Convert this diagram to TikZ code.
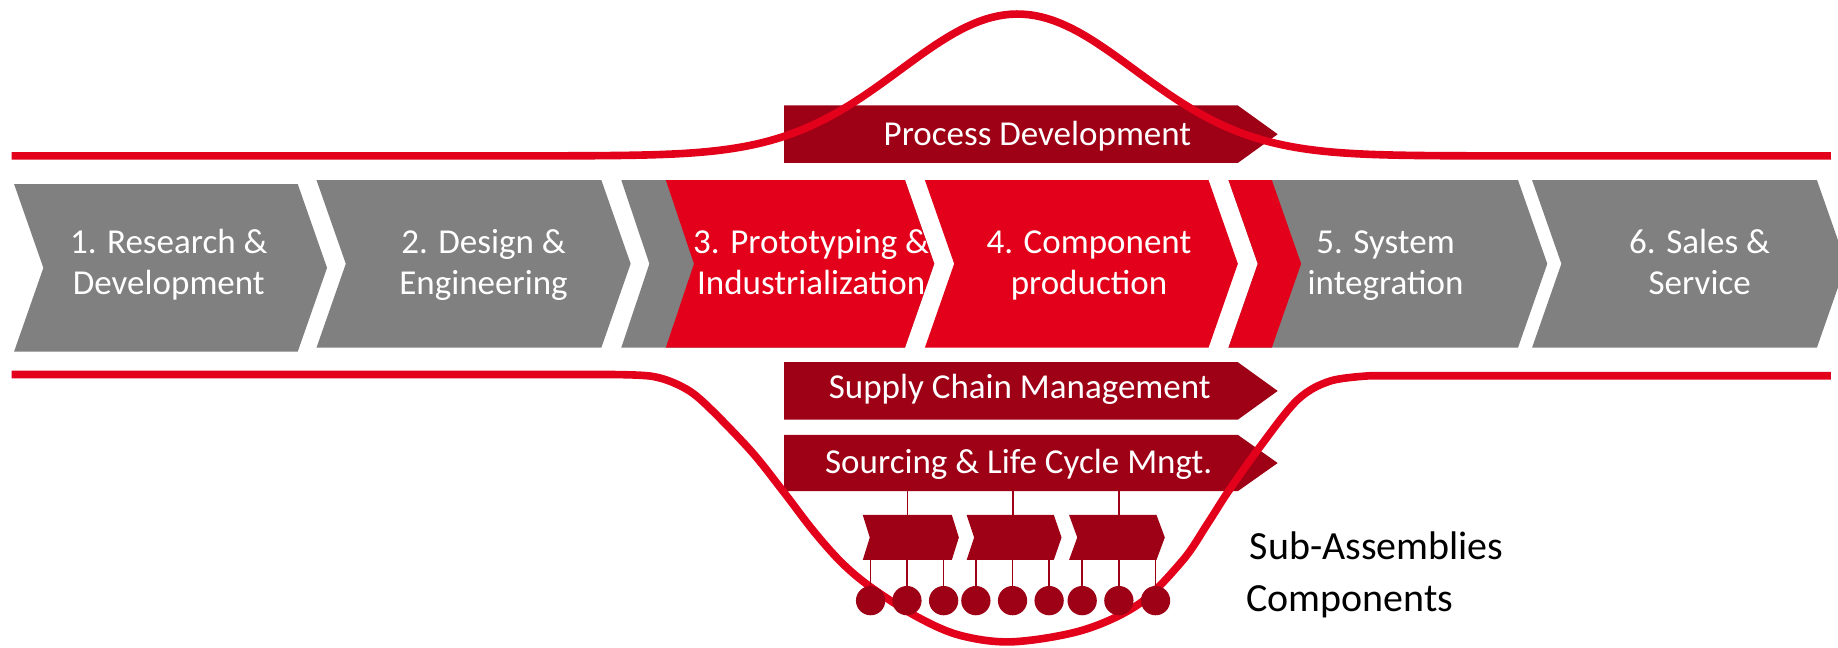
\documentclass[tikz,border=0pt]{standalone}
\usepackage{fontspec}
\setmainfont{Carlito}
\definecolor{chevgray}{HTML}{808080}
\definecolor{brightred}{HTML}{E2001A}
\definecolor{darkred}{HTML}{9E0016}
\tikzset{
  grayshape/.style={fill=chevgray},
  redshape/.style={fill=brightred},
  darkshape/.style={fill=darkred},
  curveline/.style={draw=brightred, line width=3.7pt, line join=round},
  chevtext/.style={text=white, align=center, inner sep=0pt, font=\fontsize{17}{20}\selectfont},
  boxtext/.style={text=white, anchor=base, inner sep=0pt, font=\fontsize{17}{20}\selectfont},
  sidetext/.style={text=black, anchor=base west, inner sep=0pt, font=\fontsize{19.4}{24}\selectfont},
  link/.style={draw=darkred, line width=0.7pt},
  part/.style={circle, fill=darkred, minimum size=0.5cm, inner sep=0pt},
}
\begin{document}
\begin{tikzpicture}[x=0.02cm,y=-0.02cm]
\useasboundingbox (0,0) rectangle (1568,552.8);

% main value chain chevrons
\fill[grayshape] (12,157) -- (254,157) -- (279,228.5) -- (254,300) -- (12,300) -- (37,228.5) -- cycle;
\fill[grayshape] (270,153.6) -- (513,153.6) -- (538,225) -- (513,296.6) -- (270,296.6) -- (295,225) -- cycle;
\fill[grayshape] (530,153.6) -- (772,153.6) -- (797,225) -- (772,296.6) -- (530,296.6) -- (554,225) -- cycle;
\fill[redshape]  (568,153.6) -- (772,153.6) -- (797,225) -- (772,296.6) -- (568,296.6) -- (592,225) -- cycle;
\fill[redshape]  (789,153.6) -- (1031,153.6) -- (1056,225) -- (1031,296.6) -- (789,296.6) -- (814,225) -- cycle;
\fill[grayshape] (1048,153.6) -- (1295,153.6) -- (1320,225) -- (1295,296.6) -- (1048,296.6) -- (1073,225) -- cycle;
\fill[redshape]  (1048,153.6) -- (1085,153.6) -- (1110,225) -- (1085,296.6) -- (1048,296.6) -- (1073,225) -- cycle;
\fill[grayshape] (1307,153.6) -- (1550,153.6) -- (1575,225) -- (1550,296.6) -- (1307,296.6) -- (1332,225) -- cycle;

\node[chevtext] (s1) at (144,226.5) {\strut 1. Research \&\\\strut Development};
\node[chevtext] (s2) at (412.5,226.5) {\strut 2. Design \&\\\strut Engineering};
\node[chevtext] (s3) at (692,226.5) {\strut 3. Prototyping \&\\\strut Industrialization};
\node[chevtext] (s4) at (929,226.5) {\strut 4. Component\\\strut production};
\node[chevtext] (s5) at (1182,226.5) {\strut 5. System\\\strut integration};
\node[chevtext] (s6) at (1450,226.5) {\strut 6. Sales \&\\\strut Service};

% process arrows
\fill[darkshape] (669,90) -- (1056,90) -- (1090,114.5) -- (1056,139) -- (669,139) -- cycle;
\fill[darkshape] (669,309) -- (1056,309) -- (1090,333.5) -- (1056,358) -- (669,358) -- cycle;
\fill[darkshape] (669,371) -- (1056,371) -- (1090,395) -- (1056,419) -- (669,419) -- cycle;
\node[boxtext] (pd) at (885,123.7) {Process Development};
\node[boxtext] (scm) at (870,340.3) {Supply Chain Management};
\node[boxtext] (slc) at (869,403.8) {Sourcing \& Life Cycle Mngt.};

% red curves
\draw[curveline] (10,133) -- (450,133)
  -- plot[domain=450:1290, samples=160] (\x,{133-121*exp(-((\x-868)/100)^2/2)})
  -- (1562,133);
\draw[curveline] (10,319.5) -- (520,319.5)
  -- plot[smooth, tension=0.55] coordinates {(520,319.5) (556,321) (580,329) (600,343) (640,384) (668,419) (694,453) (718,480) (743,501) (782,526) (819,542) (864,547.5) (924,537.5) (972,515) (1009,478) (1030,447) (1048,419) (1075,381) (1107,341) (1135,325) (1170,320.5)}
  -- (1562,320.5);

% sub-assemblies
\fill[darkshape] (736,439.3) -- (812,439.3) -- (818,458.5) -- (812,477.7) -- (736,477.7) -- (742,458.5) -- cycle;
\fill[darkshape] (824.6,439.3) -- (899,439.3) -- (905.6,458.5) -- (899,477.7) -- (824.6,477.7) -- (831,458.5) -- cycle;
\fill[darkshape] (912,439.3) -- (986.6,439.3) -- (993.7,458.5) -- (986.6,477.7) -- (912,477.7) -- (919,458.5) -- cycle;
\coordinate (src1) at (774,419);
\coordinate (src2) at (864,419);
\coordinate (src3) at (954.5,419);
\coordinate (sa1) at (774,439.3);
\coordinate (sa2) at (864,439.3);
\coordinate (sa3) at (954.5,439.3);
\coordinate (sab) at (864,477.7);
\draw[link] (src1) -- (sa1);
\draw[link] (src2) -- (sa2);
\draw[link] (src3) -- (sa3);

% components
\foreach \i/\px in {1/742.7,2/773.7,3/805,4/832.5,5/863.8,6/895,7/923.2,8/954.5,9/985.8}{
  \node[part] (c\i) at (\px,512.4) {};
  \draw[link] (c\i) -- (c\i |- sab);
}

\node[sidetext] (subas) at (1066,477.7) {Sub-Assemblies};
\node[sidetext] (comp) at (1063,521.7) {Components};
\end{tikzpicture}
\end{document}
